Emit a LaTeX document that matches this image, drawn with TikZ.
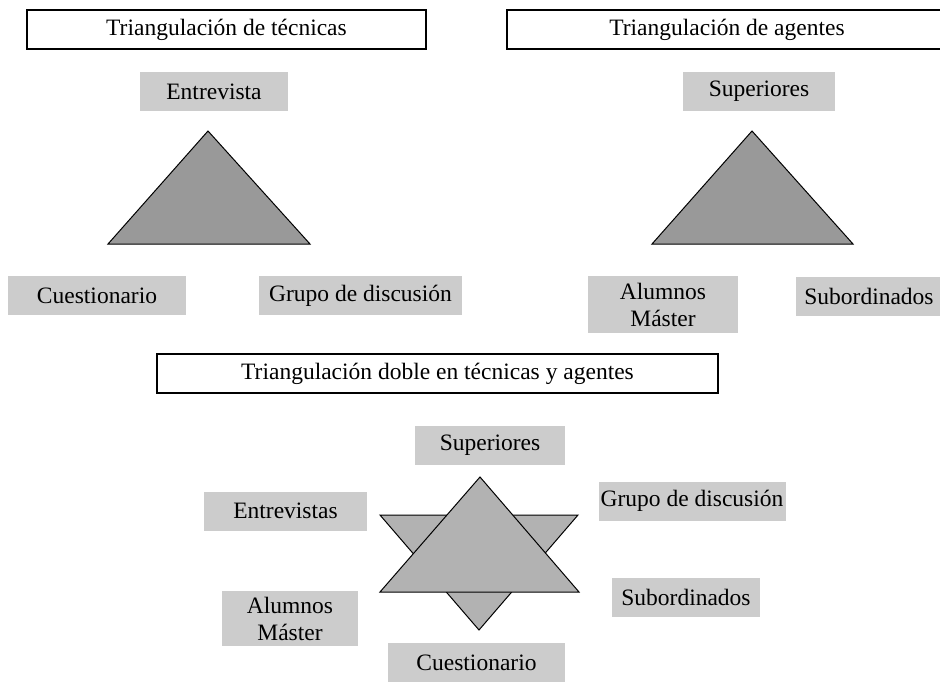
\documentclass[tikz,border=0pt]{standalone}
\usepackage{fontspec}
\setmainfont{Liberation Serif}
\begin{document}
\begin{tikzpicture}[x=1pt,y=-1pt,
  titulo/.style={draw,line width=1.1pt,minimum height=39pt,inner sep=0pt,font=\fontsize{23.5}{27}\selectfont},
  etiq/.style={fill=black!20,minimum height=39pt,inner sep=0pt,align=center,font=\fontsize{23.5}{27}\selectfont},
  triang/.style={draw,line width=1pt,line join=miter}]
\useasboundingbox (0,0) rectangle (940,682);
% triangulacion de tecnicas
\node[titulo,minimum width=399pt] (titTec) at (226.5,29.5) {Triangulación de técnicas};
\node[etiq,minimum width=148pt] (entA) at (214,92) {Entrevista};
\node[etiq,minimum width=178pt] (cueA) at (97,295.5) {Cuestionario};
\node[etiq,minimum width=203pt] (gruA) at (360.5,295.5) {Grupo de discusión};
\draw[triang,fill=black!40] (208,131) -- (310,244) -- (108,244) -- cycle;
% triangulacion de agentes
\node[titulo,minimum width=440pt] (titAge) at (727,29.5) {Triangulación de agentes};
\node[etiq,minimum width=152pt] (supB) at (759,91.5) {Superiores};
\node[etiq,minimum width=150pt,minimum height=57pt] (aluB) at (663,304.5) {Alumnos\\Máster};
\node[etiq,minimum width=146pt] (subB) at (869,296) {Subordinados};
\draw[triang,fill=black!40] (752,131) -- (853,244) -- (652,244) -- cycle;
% triangulacion doble
\node[titulo,minimum width=561pt] (titDob) at (437.5,373.5) {Triangulación doble en técnicas y agentes};
\node[etiq,minimum width=150pt] (supC) at (490,445.5) {Superiores};
\node[etiq,minimum width=163pt] (entC) at (285.5,511) {Entrevistas};
\node[etiq,minimum width=187pt] (gruC) at (692,501) {Grupo de discusión};
\node[etiq,minimum width=148pt] (subC) at (686,597.5) {Subordinados};
\node[etiq,minimum width=136pt,minimum height=55pt] (aluC) at (290,618.5) {Alumnos\\Máster};
\node[etiq,minimum width=177pt] (cueC) at (476.5,662.5) {Cuestionario};
\draw[triang,fill=black!30] (380,515) -- (578,515) -- (479,630) -- cycle;
\draw[triang,fill=black!30] (480,477) -- (579,592) -- (380,592) -- cycle;
\end{tikzpicture}
\end{document}
